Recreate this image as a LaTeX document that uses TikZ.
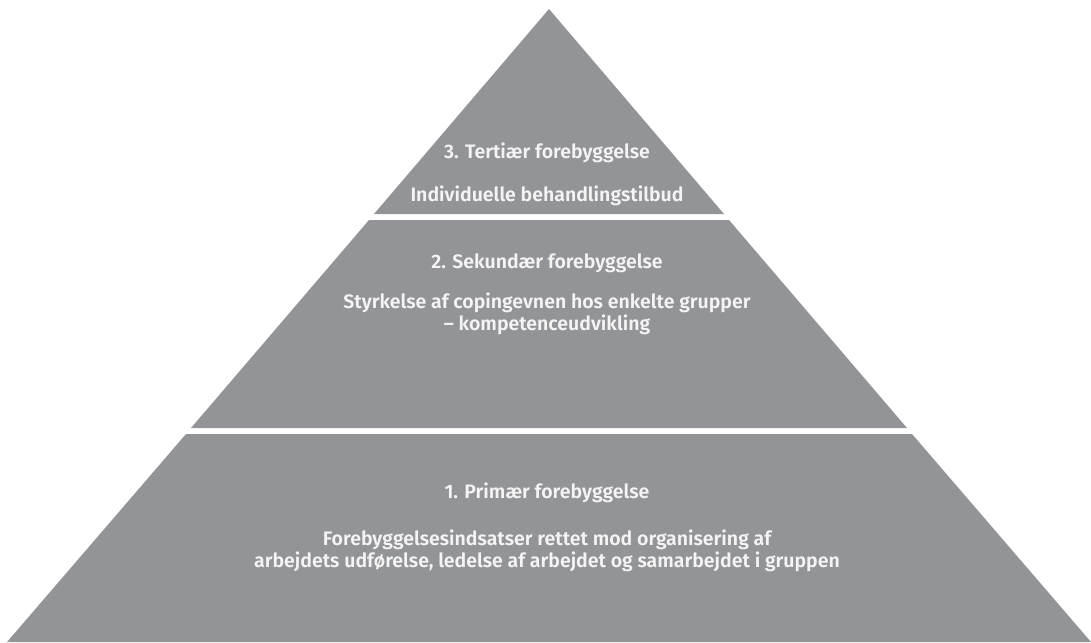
\documentclass[tikz,border=0pt]{standalone}
\usepackage{fontspec}
\setmainfont{Fira Sans}[BoldFont={Fira Sans SemiBold}]
\definecolor{tiergray}{HTML}{939498}
\definecolor{tiertext}{HTML}{F4F4F4}
\begin{document}
\begin{tikzpicture}[x=1pt,y=-1pt,
  tier/.style={fill=tiergray,draw=none},
  label/.style={text=tiertext,font=\fontsize{19.5}{21.5}\selectfont\bfseries,align=center,inner sep=0pt}]
\useasboundingbox (0,0) rectangle (1091,642);
% apex (549,9), half-width = 0.855*(y-9)
\fill[tier] (549,9) -- (724,214) -- (374,214) -- cycle;
\fill[tier] (369,220) -- (729,220) -- (907,428) -- (191,428) -- cycle;
\fill[tier] (186,434) -- (912,434) -- (1091,642) -- (7,642) -- cycle;
\node[label] (t3a) at (547,153) {3. Tertiær forebyggelse};
\node[label] (t3b) at (547,196) {Individuelle behandlingstilbud};
\node[label] (t2a) at (547,263) {2. Sekundær forebyggelse};
\node[label] (t2b) at (547,314) {Styrkelse af copingevnen hos enkelte grupper\\– kompetenceudvikling};
\node[label] (t1a) at (547,493) {1. Primær forebyggelse};
\node[label] (t1b) at (547,551) {Forebyggelsesindsatser rettet mod organisering af\\arbejdets udførelse, ledelse af arbejdet og samarbejdet i gruppen};
\end{tikzpicture}
\end{document}
